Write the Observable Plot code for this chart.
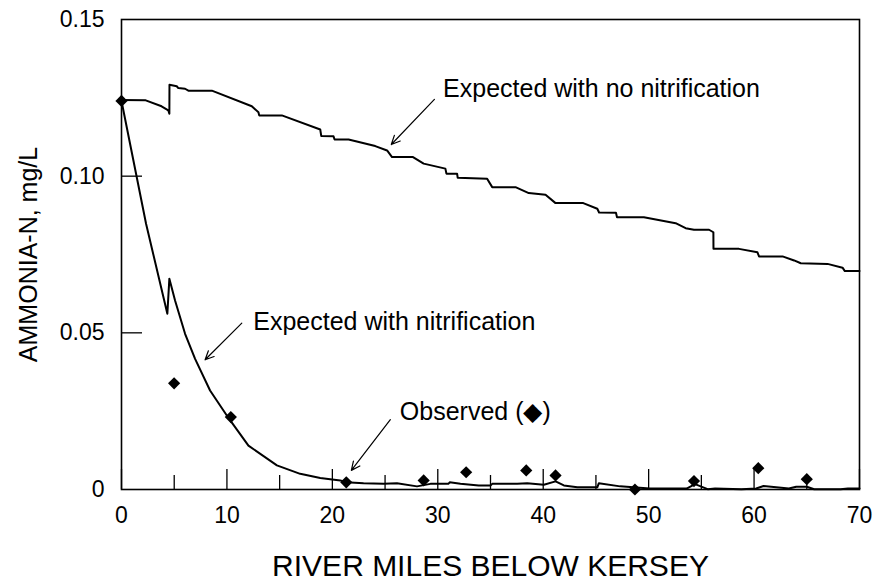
<!DOCTYPE html>
<html><head><meta charset="utf-8">
<script src="https://cdn.jsdelivr.net/npm/d3@7"></script>
<script src="https://cdn.jsdelivr.net/npm/@observablehq/plot@0.6"></script>
<style>body{margin:0;background:#fff}</style>
</head><body><div id="chart"></div>
<script>
// ---- tick definitions ----
const xTicks = [0, 10, 20, 30, 40, 50, 60, 70];
const xMinorTicks = [5, 15, 25, 35, 45, 55, 65];
const yTicks = [0, 0.05, 0.10, 0.15];
const yTickLabels = ["0", "0.05", "0.10", "0.15"];
const yInnerTicks = [0.05, 0.10];

// ---- Expected with no nitrification ----
const noNitrMiles = [0, 2.3, 3.8, 4.44, 4.54, 4.55, 5.24, 5.39, 6.03, 6.34, 8.57, 12.36, 12.99, 13.06, 15.21, 18.85, 18.95, 20.11, 20.21, 21.54, 24.07, 25.19, 25.66, 27.65, 28.66, 30.72, 30.82, 31.83, 31.89, 34.68, 35.16, 37.37, 38.63, 40.22, 41.17, 43.8, 45.13, 45.3, 46.9, 47.0, 49.55, 52.56, 53.51, 54.3, 55.73, 56.14, 56.15, 58.57, 60.32, 60.47, 62.7, 63.8, 64.43, 66.97, 68.39, 68.61, 70];
const noNitrValues = [0.1243, 0.1242, 0.1223, 0.1210, 0.1199, 0.1292, 0.1287, 0.1281, 0.1279, 0.1273, 0.1273, 0.1223, 0.1204, 0.1194, 0.1194, 0.1149, 0.1128, 0.1127, 0.1117, 0.1117, 0.1096, 0.1082, 0.1061, 0.1061, 0.1040, 0.1024, 0.1008, 0.1008, 0.0995, 0.0992, 0.0965, 0.0965, 0.0946, 0.0941, 0.0914, 0.0914, 0.0896, 0.0884, 0.0883, 0.0869, 0.0869, 0.0850, 0.0834, 0.0829, 0.0829, 0.0821, 0.0768, 0.0768, 0.0757, 0.0744, 0.0744, 0.0731, 0.0722, 0.0720, 0.0708, 0.0697, 0.0697];

// ---- Expected with nitrification ----
const nitrMiles = [0, 2.33, 4.35, 4.54, 5.08, 6.03, 6.98, 8.4, 9.99, 12.04, 14.74, 16.95, 18.85, 20.75, 21.3, 22.96, 24.86, 26.13, 28.03, 29.3, 31.0, 31.13, 32.15, 33.88, 35.0, 35.16, 37.53, 38.48, 40.06, 41.17, 41.96, 43.23, 45.13, 45.28, 47.3, 50.1, 53.6, 54.4, 55.6, 56.3, 58.8, 60.2, 60.9, 63.3, 64.0, 65.0, 65.7, 68.2, 68.9, 70];
const nitrValues = [0.1240, 0.0848, 0.0561, 0.0673, 0.0603, 0.0497, 0.0417, 0.0316, 0.0236, 0.0140, 0.0077, 0.0050, 0.0037, 0.0029, 0.0023, 0.0020, 0.0018, 0.0020, 0.0010, 0.0018, 0.0018, 0.0023, 0.0018, 0.0013, 0.0013, 0.0018, 0.0018, 0.0020, 0.0015, 0.0026, 0.0013, 0.0007, 0.0007, 0.0020, 0.0010, 0.0003, 0.0003, 0.0017, 0.0001, 0.0003, 0.0001, 0.0003, 0.0011, 0.0003, 0.0009, 0.0009, 0.0001, 0.0001, 0.0003, 0.0003];

// ---- Observed ----
const obsMiles = [0, 4.99, 10.37, 21.32, 28.66, 32.69, 38.39, 41.17, 48.7, 54.3, 60.4, 65.0];
const obsValues = [0.1240, 0.0339, 0.0231, 0.0023, 0.0029, 0.0055, 0.0061, 0.0045, 0.0, 0.0027, 0.0068, 0.0033];

// ---- annotations ----
const noteTexts = ["Expected with no nitrification", "Expected with nitrification", "Observed (\u25C6)"];
const noteX = [30.5, 12.5, 26.4];
const noteY = [0.1277, 0.0533, 0.0246];
const arrowX1 = [29.68, 11.41, 25.5];
const arrowY1 = [0.1245, 0.0531, 0.0223];
const arrowX2 = [25.59, 7.93, 21.8];
const arrowY2 = [0.1101, 0.0414, 0.0061];

const xTitle = "RIVER MILES BELOW KERSEY";
const yTitle = "AMMONIA-N, mg/L";

const noNitr = noNitrMiles.map((m, i) => ({mile: m, value: noNitrValues[i]}));
const nitr = nitrMiles.map((m, i) => ({mile: m, value: nitrValues[i]}));
const obs = obsMiles.map((m, i) => ({mile: m, value: obsValues[i]}));
const notes = noteTexts.map((t, i) => ({text: t, x: noteX[i], y: noteY[i], x1: arrowX1[i], y1: arrowY1[i], x2: arrowX2[i], y2: arrowY2[i]}));

const W = 874, H = 581, mL = 121, mR = 15, mT = 19, mB = 92;
const plotH = H - mT - mB, plotW = W - mL - mR;

const chart = Plot.plot({
  width: W, height: H,
  marginLeft: mL, marginRight: mR, marginTop: mT, marginBottom: mB,
  style: {fontFamily: "'Liberation Sans', Arial, Helvetica, sans-serif", background: "#fff", color: "#000"},
  x: {domain: [0, 70]},
  y: {domain: [0, 0.15]},
  marks: [
    Plot.ruleX(xTicks, {x: d => d, insetTop: plotH - 20, stroke: "#000", strokeWidth: 1.3}),
    Plot.ruleX(xMinorTicks, {x: d => d, insetTop: plotH - 14, stroke: "#000", strokeWidth: 1.3}),
    Plot.ruleY(yInnerTicks, {y: d => d, insetRight: plotW - 21, stroke: "#000", strokeWidth: 1.3}),
    Plot.axisX({ticks: xTicks, tickSize: 0, tickPadding: 17, fontSize: 23, label: null}),
    Plot.axisY({ticks: yTicks, tickSize: 0, tickPadding: 17, fontSize: 23, label: null,
      tickFormat: d => yTickLabels[yTicks.findIndex(t => Math.abs(t - d) < 1e-9)]}),
    Plot.line(noNitr, {x: "mile", y: "value", stroke: "#000", strokeWidth: 2, curve: "linear"}),
    Plot.line(nitr, {x: "mile", y: "value", stroke: "#000", strokeWidth: 2, curve: "linear"}),
    Plot.dot(obs, {x: "mile", y: "value", symbol: "diamond2", r: 5.5, fill: "#000", stroke: "none"}),
    Plot.arrow(notes, {x1: "x1", y1: "y1", x2: "x2", y2: "y2", stroke: "#000", strokeWidth: 1.2, headLength: 12, headAngle: 50}),
    Plot.text(notes, {x: "x", y: "y", text: "text", textAnchor: "start", lineAnchor: "middle", fontSize: 25, fill: "#000"}),
    Plot.text([xTitle], {text: d => d, frameAnchor: "bottom", textAnchor: "middle", lineAnchor: "middle", dy: 77, fontSize: 30, fill: "#000"}),
    Plot.text([yTitle], {text: d => d, frameAnchor: "left", textAnchor: "middle", lineAnchor: "middle", rotate: -90, dx: -93, fontSize: 25, fill: "#000"}),
    Plot.frame({stroke: "#000", strokeWidth: 1.6})
  ]
});
document.getElementById("chart").appendChild(chart);
</script>
</body></html>
